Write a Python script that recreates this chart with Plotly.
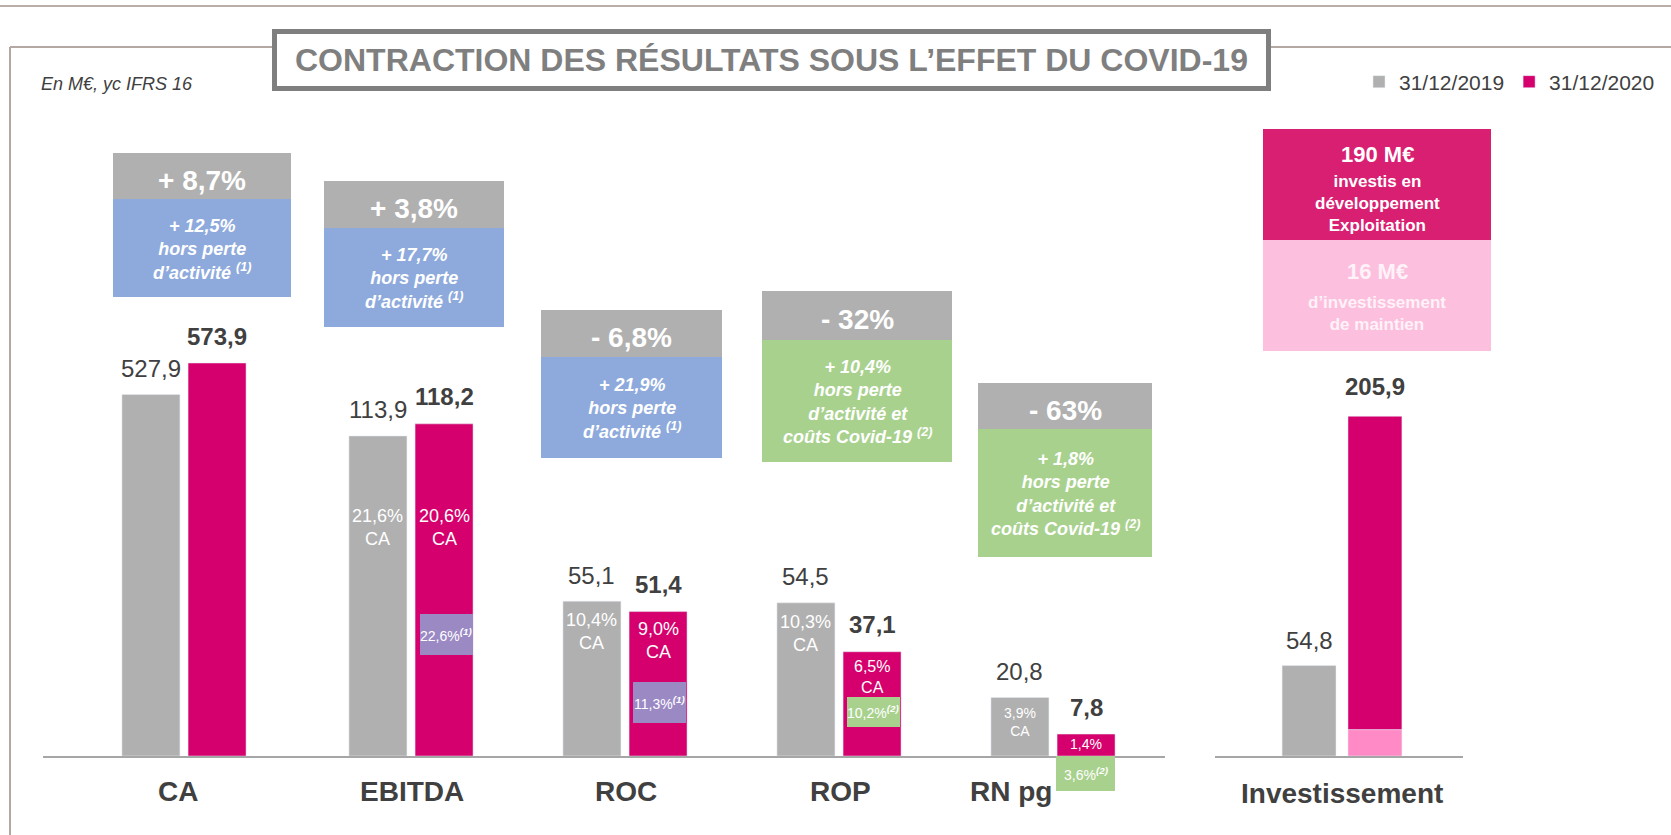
import plotly.graph_objects as go

W, H = 1671, 835

# --- données (M€) ---
ca_cat = ["CA"]
ca_2019 = [527.9]
ca_2020 = [573.9]

res_cats = ["EBITDA", "ROC", "ROP", "RN pg"]
res_2019 = [113.9, 55.1, 54.5, 20.8]
res_2020 = [118.2, 51.4, 37.1, 7.8]
marge_2019 = ["21,6%<br>CA", "10,4%<br>CA", "10,3%<br>CA", "3,9%<br>CA"]
marge_2020 = ["20,6%<br>CA", "9,0%<br>CA", "6,5%<br>CA", "1,4%"]
marge_hors = ["22,6%", "11,3%", "10,2%", "3,6%"]
renvoi_hors = ["(1)", "(1)", "(2)", "(2)"]

inv_cat = ["Investissement"]
inv_2019 = [54.8]
inv_maintien = [16.0]
inv_dev = [189.9]
inv_2020 = [205.9]

var_head = ["+ 8,7%", "+ 3,8%", "- 6,8%", "- 32%", "- 63%"]
var_body = [
    "+ 12,5%<br>hors perte<br>d’activité <sup>(1)</sup>",
    "+ 17,7%<br>hors perte<br>d’activité <sup>(1)</sup>",
    "+ 21,9%<br>hors perte<br>d’activité <sup>(1)</sup>",
    "+ 10,4%<br>hors perte<br>d’activité et<br>coûts Covid-19 <sup>(2)</sup>",
    "+ 1,8%<br>hors perte<br>d’activité et<br>coûts Covid-19 <sup>(2)</sup>",
]

GRAY = "#b0b0b0"
PINK = "#d5006d"
BLUE = "#8eaadc"
GREEN = "#a9d18e"
PURPLE = "#9b89c4"
DARK = "#404040"
FONT = "Liberation Sans, Arial, sans-serif"


def fmt(v):
    return f"{v:.1f}".replace(".", ",")


def px(x):
    return x / W


def py(y):
    return 1 - y / H


fig = go.Figure()

# bar geometry (category units, 214 px per category)
BW = 0.271
OFF_G, OFF_P = -0.29, 0.019
CG, CP = OFF_G + BW / 2, OFF_P + BW / 2

fig.add_trace(go.Bar(x=ca_cat, y=ca_2019, name="31/12/2019", marker_color=GRAY,
                     width=BW, offset=OFF_G, xaxis="x", yaxis="y", legendgroup="a"))
fig.add_trace(go.Bar(x=ca_cat, y=ca_2020, name="31/12/2020", marker_color=PINK,
                     width=BW, offset=OFF_P, xaxis="x", yaxis="y", legendgroup="b"))
fig.add_trace(go.Bar(x=res_cats, y=res_2019, name="31/12/2019", marker_color=GRAY,
                     width=BW, offset=OFF_G, xaxis="x2", yaxis="y2",
                     legendgroup="a", showlegend=False))
fig.add_trace(go.Bar(x=res_cats, y=res_2020, name="31/12/2020", marker_color=PINK,
                     width=BW, offset=OFF_P, xaxis="x2", yaxis="y2",
                     legendgroup="b", showlegend=False))
fig.add_trace(go.Bar(x=inv_cat, y=inv_2019, name="31/12/2019", marker_color=GRAY,
                     width=0.252, offset=-0.28, xaxis="x3", yaxis="y3",
                     legendgroup="a", showlegend=False))
fig.add_trace(go.Bar(x=inv_cat, y=inv_maintien, name="maintien", marker_color="#ff8ac6",
                     width=0.252, offset=0.028, xaxis="x3", yaxis="y3", showlegend=False))
fig.add_trace(go.Bar(x=inv_cat, y=inv_dev, base=inv_maintien, name="développement",
                     marker_color=PINK, width=0.252, offset=0.028, xaxis="x3", yaxis="y3",
                     showlegend=False))

ann = []


def note(text, x, y, size, color=DARK, xref="paper", yref="paper", **kw):
    kw.setdefault("xanchor", "center")
    kw.setdefault("yanchor", "middle")
    ann.append(dict(text=text, x=x, y=y, xref=xref, yref=yref, showarrow=False,
                    font=dict(size=size, color=color, family=FONT), **kw))


shapes = []


def rect(x0, y0, x1, y1, color, **kw):
    shapes.append(dict(type="rect", xref="paper", yref="paper", x0=px(x0), x1=px(x1),
                       y0=py(y1), y1=py(y0), fillcolor=color, line_width=0, **kw))


def line(x0, y0, x1, y1, color="#b3a9a2", width=2):
    shapes.append(dict(type="line", xref="paper", yref="paper", x0=px(x0), x1=px(x1),
                       y0=py(y0), y1=py(y1), line=dict(color=color, width=width)))


# cadre
line(0, 6, W, 6, "#b9afa8", 2)
line(10, 47, 10, H)
line(10, 47, 272, 47)
line(1271, 47, W, 47)
shapes.append(dict(type="rect", xref="paper", yref="paper", x0=px(274.5), x1=px(1268.5),
                   y0=py(88.5), y1=py(31.5), fillcolor="white",
                   line=dict(color="#7f7f7f", width=5)))
note("<b>CONTRACTION DES RÉSULTATS SOUS L’EFFET DU COVID-19</b>", px(771), py(60), 32, "#7f7f7f")
note("<i>En M€, yc IFRS 16</i>", px(39), py(84), 18, DARK, xanchor="left")

# valeurs au-dessus des barres
note(fmt(ca_2019[0]), CG, ca_2019[0], 24, xref="x", yref="y", yshift=26)
note("<b>" + fmt(ca_2020[0]) + "</b>", CP, ca_2020[0], 24, xref="x", yref="y", yshift=27)
for i in range(len(res_cats)):
    note(fmt(res_2019[i]), i + CG, res_2019[i], 24, xref="x2", yref="y2", yshift=26)
    note("<b>" + fmt(res_2020[i]) + "</b>", i + CP, res_2020[i], 24, xref="x2", yref="y2", yshift=27)
note(fmt(inv_2019[0]), -0.28 + 0.126, inv_2019[0], 24, xref="x3", yref="y3", yshift=25)
note("<b>" + fmt(inv_2020[0]) + "</b>", 0.028 + 0.126, inv_2020[0], 24, xref="x3", yref="y3", yshift=30)

# marges dans les barres
marge_y_2019 = [527, 631, 633, 722]
marge_y_2020 = [527, 640, 677, 744]
marge_fs_2019 = [18, 18, 18, 14]
marge_fs_2020 = [18, 18, 16, 14]
for i in range(len(res_cats)):
    note(marge_2019[i], i + CG, py(marge_y_2019[i]), marge_fs_2019[i], "white", xref="x2")
    note(marge_2020[i], i + CP, py(marge_y_2020[i]), marge_fs_2020[i], "white", xref="x2")

# encadrés "hors perte" dans / sous les barres
hors_box = [(420, 614, 473, 655, PURPLE), (633, 682, 686, 723, PURPLE),
            (847, 697, 900, 727, GREEN), (1056, 756, 1115, 791, GREEN)]
for i, (x0, y0, x1, y1, c) in enumerate(hors_box):
    rect(x0, y0, x1, y1, c)
    note(marge_hors[i] + "<sup><b><i>" + renvoi_hors[i] + "</i></b></sup>",
         px((x0 + x1) / 2), py((y0 + y1) / 2), 14, "white")

# encadrés de variation
var_box = [(113, 291, 153, 199, 297, BLUE), (324, 504, 181, 228, 327, BLUE),
           (541, 722, 310, 357, 458, BLUE), (762, 952, 291, 340, 462, GREEN),
           (978, 1152, 383, 429, 557, GREEN)]
for i, (x0, x1, yt, ym, yb, c) in enumerate(var_box):
    rect(x0, yt, x1, ym, GRAY)
    rect(x0, ym, x1, yb, c)
    note("<b>" + var_head[i] + "</b>", px((x0 + x1) / 2), py((yt + ym) / 2 + 4), 28, "white")
    note("<b><i>" + var_body[i] + "</i></b>", px((x0 + x1) / 2), py((ym + yb) / 2 + 1), 18, "white")

# encadré investissement
rect(1263, 129, 1491, 240, "#d81f72")
rect(1263, 240, 1491, 351, "#fcc0de")
note("<b>190 M€</b>", px(1377), py(154), 22, "white")
note("<b>investis en<br>développement<br>Exploitation</b>", px(1377), py(203), 17, "white")
note("<b>16 M€</b>", px(1377), py(271), 22, "#fff2f8")
note("<b>d’investissement<br>de maintien</b>", px(1377), py(314), 17, "#fff2f8")

# libellés des catégories
note("<b>CA</b>", 0, py(791), 28, xref="x", xshift=-6)
cat_shift = [1, 1, 1, -42]
for i, c in enumerate(res_cats):
    note("<b>" + c + "</b>", i, py(791), 28, xref="x2", xshift=cat_shift[i])
note("<b>Investissement</b>", 0, py(793), 28, xref="x3")

base = 79 / H
axis_common = dict(showgrid=False, zeroline=False, showticklabels=False, ticks="",
                   showline=True, linecolor="#a6a6a6", linewidth=2, fixedrange=True)
yaxis_common = dict(domain=[base, 1], visible=False, showgrid=False, zeroline=False)

fig.update_layout(
    width=W, height=H,
    margin=dict(l=0, r=0, t=0, b=0),
    paper_bgcolor="white", plot_bgcolor="rgba(0,0,0,0)",
    barmode="overlay",
    font=dict(family=FONT, color=DARK),
    xaxis=dict(domain=[px(43), px(304)], range=[-(184 - 43) / 214, (304 - 184) / 214],
               anchor="y", **axis_common),
    xaxis2=dict(domain=[px(304), px(1165)], range=[-0.5, 3.5 + 5 / 214],
                anchor="y2", **axis_common),
    xaxis3=dict(domain=[px(1215), px(1463)], range=[-(1342 - 1215) / 214, (1463 - 1342) / 214],
                anchor="y3", **axis_common),
    yaxis=dict(range=[0, 1104], anchor="x", **yaxis_common),
    yaxis2=dict(range=[0, 756 / 2.81], anchor="x2", **yaxis_common),
    yaxis3=dict(range=[0, 756 / 1.65], anchor="x3", **yaxis_common),
    showlegend=True,
    legend=dict(orientation="h", x=px(1660), xanchor="right", y=py(82), yanchor="middle",
                font=dict(size=21, color=DARK), bgcolor="rgba(0,0,0,0)"),
    annotations=ann,
    shapes=shapes,
)

fig.write_html("out.html", config={"displayModeBar": False},
               post_script="document.body.style.margin='0px';")
